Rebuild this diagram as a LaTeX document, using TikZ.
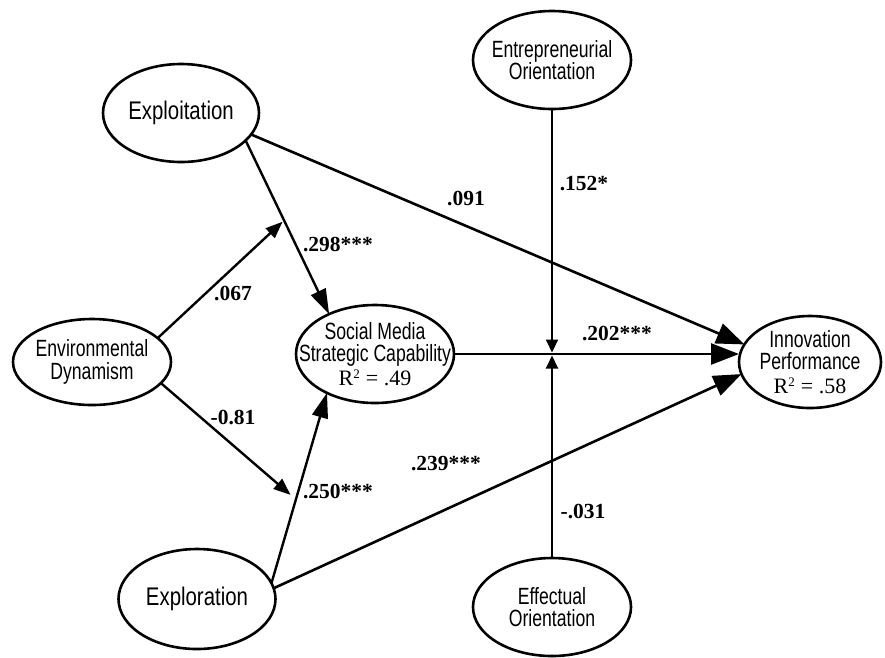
\documentclass[tikz,border=0pt]{standalone}
\usepackage{fontspec}
\setmainfont{Liberation Serif}
\newfontfamily\narrowsans[FakeStretch=0.75]{Liberation Sans}
\newfontfamily\bignarrowsans[FakeStretch=0.8]{Liberation Sans}
\usetikzlibrary{arrows.meta,shapes.geometric}
\begin{document}
\begin{tikzpicture}[x=1pt,y=-1pt,
  every node/.style={inner sep=0pt, outer sep=0pt},
  latent/.style={draw, ellipse, line width=2.6pt},
  bigname/.style={font=\bignarrowsans\fontsize{25.5}{26}\selectfont},
  smallname/.style={font=\narrowsans\fontsize{23.5}{22.5}\selectfont, align=center},
  coef/.style={font=\bfseries\fontsize{21.5}{22}\selectfont},
  arrowA/.style={line width=2.4pt, -{Triangle[length=25pt,width=16pt]}},
  arrowS/.style={line width=2.4pt, -{Triangle[length=17pt,width=13pt]}},
  arrowL/.style={line width=2.6pt, -{Triangle[length=28pt,width=21pt]}},
  arrowV/.style={line width=2pt, -{Triangle[length=13pt,width=12pt]}}]
\useasboundingbox (0,0) rectangle (885,657);

\node[latent, minimum width=156pt, minimum height=98pt,
  label={[bigname]center:Exploitation}] (expt) at (181,113) {};
\node[latent, minimum width=158pt, minimum height=86pt,
  label={[smallname]center:Environmental\\Dynamism}] (env) at (92,362) {};
\node[latent, minimum width=157pt, minimum height=100pt,
  label={[bigname]center:Exploration}] (expr) at (197,599) {};
\node[latent, minimum width=158pt, minimum height=98pt,
  label={[smallname]center:Social Media\\Strategic Capability\\[1.5pt]{\rmfamily\fontsize{22}{22}\selectfont R\textsuperscript{\fontsize{13}{13}\selectfont 2} = .49}}] (smsc) at (375,354) {};
\node[latent, minimum width=142pt, minimum height=92pt,
  label={[smallname]center:Innovation\\Performance\\[1.5pt]{\rmfamily\fontsize{22}{22}\selectfont R\textsuperscript{\fontsize{13}{13}\selectfont 2} = .58}}] (inno) at (810,362) {};
\node[latent, minimum width=158pt, minimum height=98pt,
  label={[smallname]center:Entrepreneurial\\Orientation}] (eo) at (552,60) {};
\node[latent, minimum width=158pt, minimum height=98pt,
  label={[smallname]center:Effectual\\Orientation}] (ef) at (552,607) {};

\draw[arrowA] (expt.-23) -- coordinate[pos=0.46] (m1) (smsc.139);
\draw[arrowA] (expr.12) -- coordinate[pos=0.44] (m2) (smsc.-141);
\draw[arrowS, shorten >=2pt] (env.20) -- (m1);
\draw[arrowS, shorten >=7pt] (env.-17) -- (m2);

\coordinate (j) at (smsc.east -| eo.south);
\draw[arrowL] (expt.-17) -- (inno.165);
\draw[arrowL] (smsc.east) -- (smsc.east -| inno.west);
\draw[arrowL] (expr.8) -- (inno.190);
\draw[arrowV, shorten >=1.5pt] (eo.south) -- (j);
\draw[arrowV, shorten >=1.5pt] (ef.north) -- (j);

\node[coef] (c1) at (466,198) {.091};
\node[coef] (c2) at (338,244) {.298***};
\node[coef] (c3) at (233,293) {.067};
\node[coef] (c4) at (233,417) {-0.81};
\node[coef] (c5) at (338,491) {.250***};
\node[coef] (c6) at (446,464) {.239***};
\node[coef] (c7) at (584,184) {.152*};
\node[coef] (c8) at (617,333) {.202***};
\node[coef] (c9) at (583,511) {-.031};
\end{tikzpicture}
\end{document}
